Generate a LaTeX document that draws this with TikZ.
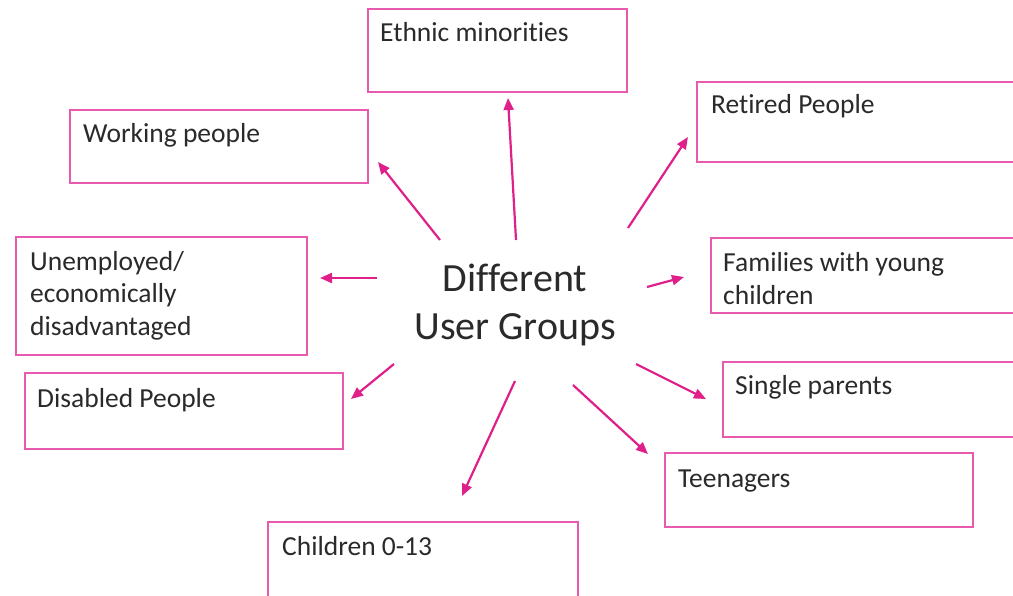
\documentclass[tikz,border=0pt]{standalone}
\usepackage{fontspec}
\setmainfont{Carlito}[Ligatures={NoCommon}]
\usetikzlibrary{arrows.meta}
\definecolor{BoxPink}{HTML}{E85AAD}
\definecolor{ArrowPink}{HTML}{E0208A}
\definecolor{InkGrey}{HTML}{2A2A2A}

\begin{document}
\begin{tikzpicture}[
  x=1pt,y=-1pt,
  grp/.style={draw=BoxPink,line width=2.8pt,fill=white,inner sep=0pt,
    anchor=north west,outer sep=0pt},
  txt/.style={anchor=base west,inner sep=0pt,text=InkGrey,
    font=\fontsize{27.5}{33}\selectfont,align=left},
  hub/.style={text=InkGrey,font=\fontsize{40}{48}\selectfont,align=center,inner sep=0pt},
  ar/.style={-{Triangle[length=12pt,width=10pt]},draw=ArrowPink,line width=2.2pt},
]
\useasboundingbox (0,0) rectangle (1013,596);
\fill[white] (0,0) rectangle (1013,596);
% boxes placed by their top-left corner; the right and bottom
% edges of some run past the page and are cut off there
\node[grp,minimum width=259pt,minimum height=83pt] (ethnic)   at (368,9)   {};
\node[grp,minimum width=298pt,minimum height=73pt] (working)  at (70,110)  {};
\node[grp,minimum width=323pt,minimum height=80pt] (retired)  at (697,82)  {};
\node[grp,minimum width=291pt,minimum height=118pt] (unemp)   at (16,237)  {};
\node[grp,minimum width=309pt,minimum height=75pt] (families) at (711,238) {};
\node[grp,minimum width=318pt,minimum height=76pt] (disabled) at (25,373)  {};
\node[grp,minimum width=297pt,minimum height=75pt] (single)   at (723,362) {};
\node[grp,minimum width=308pt,minimum height=74pt] (teens)    at (665,453) {};
\node[grp,minimum width=310pt,minimum height=82pt] (children) at (268,522) {};
% labels, set at the baseline of their last line
\node[txt] (ethnic-t)   at (380,42)  {Ethnic minorities};
\node[txt] (working-t)  at (83,143)  {Working people};
\node[txt] (retired-t)  at (711,114) {Retired People};
\node[txt] (unemp-t)    at (30,336)  {Unemployed/\\economically\\disadvantaged};
\node[txt] (families-t) at (723,305) {Families with young\\children};
\node[txt] (disabled-t) at (37,407)  {Disabled People};
\node[txt] (single-t)   at (735,395) {Single parents};
\node[txt] (teens-t)    at (678,487) {Teenagers};
\node[txt] (children-t) at (282,555) {Children 0-13};
\node[hub] (hub) at (515,305) {Different\\User Groups};
% the arrows float between the hub and the boxes
\foreach \n/\sx/\sy/\ex/\ey in {
    ethnic/516/240/508/98, working/440/240/378/162,
    retired/628/228/688/137, families/647/287/684/277,
    unemp/377/278/320/278, disabled/394/364/351/399,
    single/636/364/706/399, teens/573/385/648/454,
    children/515/381/462/496} {
  \coordinate (\n-a) at (\sx,\sy);
  \coordinate (\n-b) at (\ex,\ey);
  \draw[ar] (\n-a) -- (\n-b);
}
\end{tikzpicture}
\end{document}
